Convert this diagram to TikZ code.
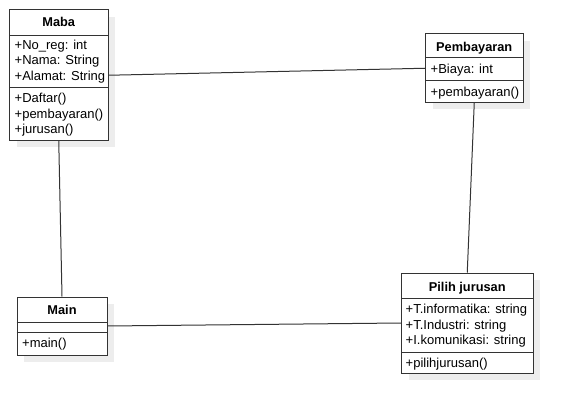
\documentclass[tikz,border=0pt]{standalone}
\usepackage{fontspec}
\setmainfont{Liberation Sans}
\usetikzlibrary{shadows}
\definecolor{linec}{HTML}{333333}
\definecolor{shadowc}{HTML}{EDEDED}
\begin{document}
\begin{tikzpicture}[x=1pt,y=-1pt,
  box/.style={draw=linec, fill=white, line width=1pt, inner sep=0pt,
    drop shadow={shadow xshift=7pt, shadow yshift=-7pt, fill=shadowc, opacity=1}},
  divider/.style={draw=linec, line width=1pt},
  ttl/.style={anchor=base, inner sep=0pt, font=\fontsize{12.8}{14}\selectfont\bfseries},
  mem/.style={anchor=base west, inner sep=0pt, font=\fontsize{13}{14}\selectfont},
  link/.style={draw=linec, line width=1pt}]
\useasboundingbox (0,0) rectangle (572,414);

% class boxes
\node[box, minimum width=98.5pt, minimum height=130.5pt] (maba) at (58.75,75.25) {};
\node[box, minimum width=97.5pt, minimum height=68.5pt] (pemb) at (474.25,68.25) {};
\node[box, minimum width=90pt, minimum height=58pt] (main) at (62,326) {};
\node[box, minimum width=131.5pt, minimum height=100pt] (pilih) at (467.25,323) {};

% compartment dividers
\draw[divider] (maba.west |- 0,36) -- (maba.east |- 0,36);
\draw[divider] (maba.west |- 0,88) -- (maba.east |- 0,88);
\draw[divider] (pemb.west |- 0,58) -- (pemb.east |- 0,58);
\draw[divider] (pemb.west |- 0,81) -- (pemb.east |- 0,81);
\draw[divider] (main.west |- 0,322.5) -- (main.east |- 0,322.5);
\draw[divider] (main.west |- 0,332) -- (main.east |- 0,332);
\draw[divider] (pilih.west |- 0,298) -- (pilih.east |- 0,298);
\draw[divider] (pilih.west |- 0,352) -- (pilih.east |- 0,352);

% Maba
\node[ttl] (mabaT) at (58.75,27) {Maba};
\node[mem] (mabaA1) at (14.5,49.5) {+No\_reg: int};
\node[mem] (mabaA2) at (14.5,65) {+Nama: String};
\node[mem] (mabaA3) at (14.5,80.5) {+Alamat: String};
\node[mem] (mabaM1) at (14.5,103) {+Daftar()};
\node[mem] (mabaM2) at (14.5,118.5) {+pembayaran()};
\node[mem] (mabaM3) at (14.5,134) {+jurusan()};

% Pembayaran
\node[ttl] (pembT) at (474.25,51.7) {Pembayaran};
\node[mem] (pembA1) at (430.5,73.5) {+Biaya: int};
\node[mem] (pembM1) at (430.5,96.5) {+pembayaran()};

% Main
\node[ttl] (mainT) at (62,314.3) {Main};
\node[mem] (mainM1) at (22,347.5) {+main()};

% Pilih jurusan
\node[ttl] (pilihT) at (467.25,291.7) {Pilih jurusan};
\node[mem] (pilihA1) at (405.5,313.3) {+T.informatika: string};
\node[mem] (pilihA2) at (405.5,329) {+T.Industri: string};
\node[mem] (pilihA3) at (405.5,344.5) {+I.komunikasi: string};
\node[mem] (pilihM1) at (405.5,367) {+pilihjurusan()};

% associations
\draw[link] (maba.east) -- (pemb.west);
\draw[link] (maba.south) -- (main.north);
\draw[link] (pemb.south) -- (pilih.north);
\draw[link] (main.east) -- (pilih.west);
\end{tikzpicture}
\end{document}
